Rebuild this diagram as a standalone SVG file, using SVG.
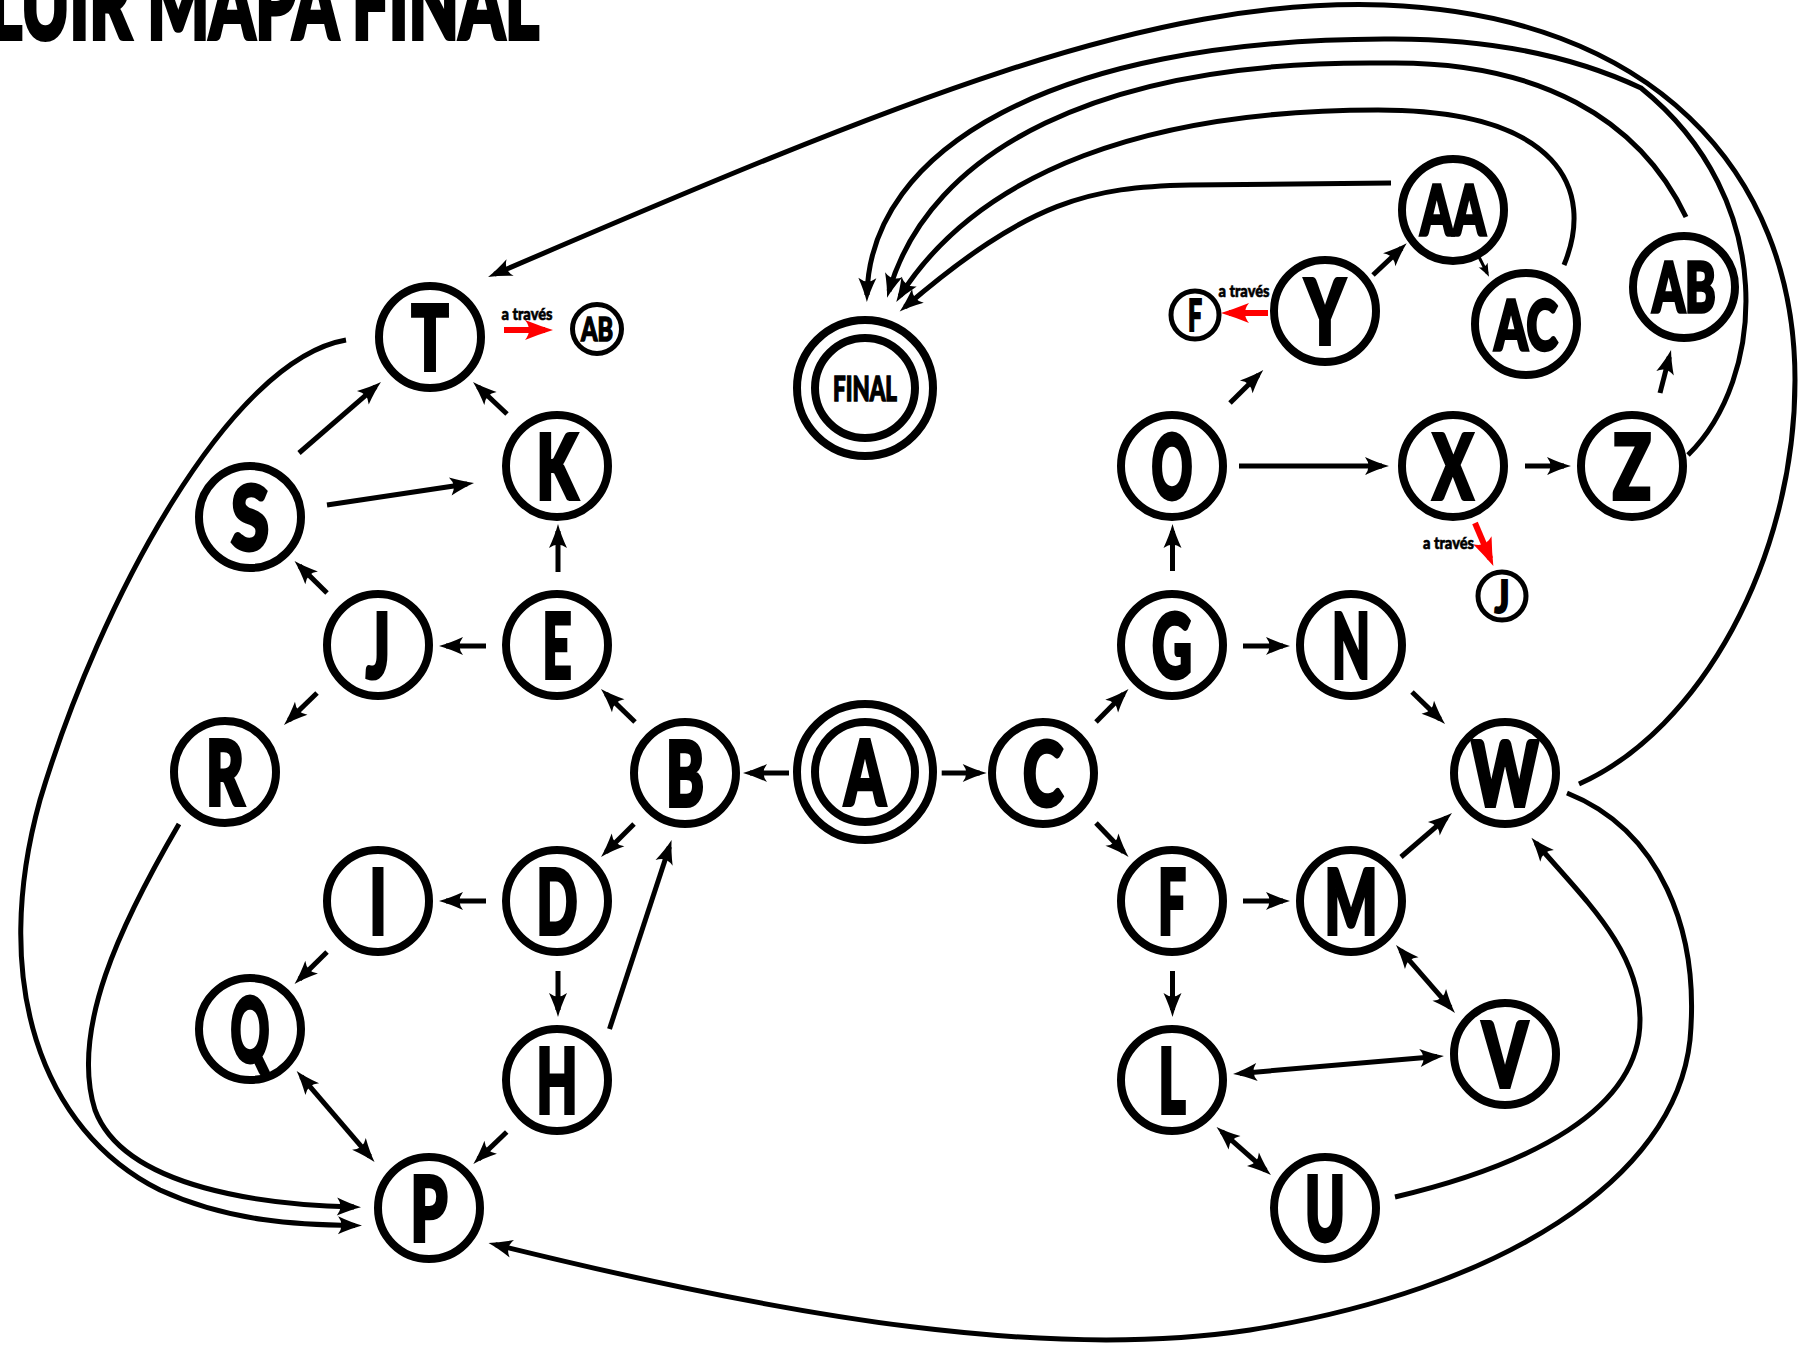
<svg xmlns="http://www.w3.org/2000/svg" width="1807" height="1346" viewBox="0 0 1807 1346">
<style>
.n circle{fill:#fff;stroke:#000;stroke-width:8}
.n circle.s{stroke-width:5}
.l{font-family:"Lato","Liberation Sans",sans-serif;font-weight:900;text-anchor:middle;fill:#000;stroke:#000;stroke-width:4;stroke-linejoin:miter;font-size:90px}
.l2{font-size:68px;stroke-width:3.5}
.e{fill:none;stroke:#000;stroke-width:5;marker-end:url(#ah)}
.d{marker-start:url(#ah)}
.r{fill:none;stroke:#f00;stroke-width:6;marker-end:url(#ahr)}
.t{font-family:"Lato","Liberation Sans",sans-serif;font-weight:900;text-anchor:middle;fill:#000;stroke:#000;stroke-width:0.6;font-size:17px}
</style>
<defs>
<marker id="ah" viewBox="-20 -10 30 20" refX="0" refY="0" markerWidth="30" markerHeight="20" markerUnits="userSpaceOnUse" orient="auto-start-reverse"><path d="M7,0 Q-4,-3 -17,-9 Q-10,0 -17,9 Q-4,3 7,0 Z" fill="#000"/></marker>
<marker id="ahs" viewBox="-12 -6 18 12" refX="0" refY="0" markerWidth="18" markerHeight="12" markerUnits="userSpaceOnUse" orient="auto"><path d="M4,0 Q-2,-2 -9,-5 Q-5,0 -9,5 Q-2,2 4,0 Z" fill="#000"/></marker>
<marker id="ahr" viewBox="-22 -11 32 22" refX="0" refY="0" markerWidth="32" markerHeight="22" markerUnits="userSpaceOnUse" orient="auto"><path d="M8,0 Q-5,-4 -20,-10 Q-12,0 -20,10 Q-5,4 8,0 Z" fill="#f00"/></marker>
</defs>
<rect width="1807" height="1346" fill="#fff"/>
<text x="-12" y="39" font-family="Lato, 'Liberation Sans', sans-serif" font-weight="900" font-size="100" textLength="551" lengthAdjust="spacingAndGlyphs" fill="#000" stroke="#000" stroke-width="4">LUIR MAPA FINAL</text>
<g id="connectors">
<path class="e" d="M299,453 L375.7,386.6"/>
<path class="e" d="M327,505 L467.1,484"/>
<path class="e" d="M507,414 L478.1,386.8"/>
<path class="e" d="M558,572 L558,531"/>
<path class="e" d="M486,646 L446,646"/>
<path class="e" d="M327,593 L299.5,565.9"/>
<path class="e" d="M317,693 L289,720.1"/>
<path class="e" d="M635,722 L606,693.9"/>
<path class="e" d="M634,824 L606,852"/>
<path class="e" d="M486,901 L446,901"/>
<path class="e" d="M327,952 L299.5,979.1"/>
<path class="e d" d="M301.2,1076.3 L370,1156.7"/>
<path class="e" d="M558,971 L558,1010"/>
<path class="e" d="M609.5,1029 L669.4,846.7"/>
<path class="e" d="M506.7,1132 L478.4,1159.1"/>
<path class="e" d="M789,773 L750,773"/>
<path class="e" d="M941.7,773 L979.7,773"/>
<path class="e" d="M1096,722 L1123.6,694"/>
<path class="e" d="M1096,823 L1123.7,851.9"/>
<path class="e" d="M1172.5,571 L1172.5,531"/>
<path class="e" d="M1243,646 L1283,646"/>
<path class="e" d="M1412,692 L1440,719.1"/>
<path class="e" d="M1239,466 L1382,466"/>
<path class="e" d="M1525,466 L1564,466"/>
<path class="e" d="M1230,403 L1258.3,374.9"/>
<path class="e" d="M1373,275 L1401.6,248.1"/>
<path fill="none" stroke="#000" stroke-width="3" marker-end="url(#ahs)" d="M1478,255 L1487.2,273.1"/>
<path class="e" d="M1660,393 L1669.3,356.8"/>
<path class="e" d="M1243,901 L1283,901"/>
<path class="e" d="M1172.5,971 L1172.5,1010"/>
<path class="e" d="M1401,857 L1446.7,817.6"/>
<path class="e d" d="M1400.6,950.3 L1450.4,1007.7"/>
<path class="e d" d="M1240,1073.4 L1437,1056.6"/>
<path class="e d" d="M1221.8,1131.6 L1265.7,1170.4"/>
<path class="r" d="M504,330 L545,330"/>
<path class="r" d="M1268,313 L1229,313"/>
<path class="r" d="M1475,523 L1490.2,558.6"/>
<path class="e" d="M1579,784 C1700,730 1795,560 1795,380 C1795,170 1650,15 1384,5 C1150,-3 900,100 494.5,274.3"/>
<path class="e" d="M1688,455 C1765,380 1780,200 1641,88 C1560,50 1470,38 1384,39 C1050,40 870,150 867,295"/>
<path class="e" d="M1686,217 C1640,120 1540,60 1384,63 C1100,60 930,150 889,291"/>
<path class="e" d="M1564,265 C1595,190 1560,110 1378,110 C1150,110 980,170 900,296"/>
<path class="e" d="M1391,183 L1190,185 C1090,187 1030,200 905,307"/>
<path class="e" d="M346,340 C230,360 100,600 40,800 C-10,980 40,1130 160,1190 C230,1222 300,1225 355,1225.5"/>
<path class="e" d="M179,824 C120,925 70,1030 95,1110 C125,1190 270,1205 354,1207"/>
<path class="e" d="M1567,793 C1660,830 1700,930 1690,1040 C1675,1180 1500,1290 1250,1330 C1050,1360 800,1320 495.3,1244.6"/>
<path class="e" d="M1395,1197 C1530,1165 1640,1110 1640,1020 C1640,950 1585,900 1536,843"/>
</g>
<g id="node-T" class="n"><circle cx="430" cy="337" r="51"/><text class="l" x="430" y="370" textLength="37" lengthAdjust="spacingAndGlyphs">T</text></g>
<g id="node-K" class="n"><circle cx="557" cy="466" r="51"/><text class="l" x="557" y="499" textLength="41" lengthAdjust="spacingAndGlyphs">K</text></g>
<g id="node-S" class="n"><circle cx="250" cy="517" r="51"/><text class="l" x="250" y="550" textLength="38" lengthAdjust="spacingAndGlyphs">S</text></g>
<g id="node-J" class="n"><circle cx="378" cy="645" r="51"/><text class="l" x="378" y="678" textLength="24" lengthAdjust="spacingAndGlyphs">J</text></g>
<g id="node-E" class="n"><circle cx="557" cy="645" r="51"/><text class="l" x="557" y="678" textLength="29" lengthAdjust="spacingAndGlyphs">E</text></g>
<g id="node-R" class="n"><circle cx="225" cy="772" r="51"/><text class="l" x="225" y="805" textLength="38" lengthAdjust="spacingAndGlyphs">R</text></g>
<g id="node-B" class="n"><circle cx="685" cy="773" r="51"/><text class="l" x="685" y="806" textLength="38" lengthAdjust="spacingAndGlyphs">B</text></g>
<g id="node-A" class="n"><circle cx="865" cy="772" r="68"/><circle cx="865" cy="772" r="50"/><text class="l" x="865" y="805" textLength="41" lengthAdjust="spacingAndGlyphs">A</text></g>
<g id="node-C" class="n"><circle cx="1043" cy="773" r="51"/><text class="l" x="1043" y="806" textLength="40" lengthAdjust="spacingAndGlyphs">C</text></g>
<g id="node-I" class="n"><circle cx="378" cy="901" r="51"/><text class="l" x="378" y="934" textLength="17" lengthAdjust="spacingAndGlyphs">I</text></g>
<g id="node-D" class="n"><circle cx="557" cy="901" r="51"/><text class="l" x="557" y="934" textLength="41" lengthAdjust="spacingAndGlyphs">D</text></g>
<g id="node-Q" class="n"><circle cx="250" cy="1029" r="51"/><text class="l" x="250" y="1062" textLength="39" lengthAdjust="spacingAndGlyphs">Q</text></g>
<g id="node-H" class="n"><circle cx="557" cy="1080" r="51"/><text class="l" x="557" y="1113" textLength="41" lengthAdjust="spacingAndGlyphs">H</text></g>
<g id="node-P" class="n"><circle cx="429" cy="1208" r="51"/><text class="l" x="429" y="1241" textLength="37" lengthAdjust="spacingAndGlyphs">P</text></g>
<g id="node-FINAL" class="n"><circle cx="865" cy="388" r="68"/><circle cx="865" cy="388" r="50"/><text class="l" style="font-size:34px;stroke-width:1.5" x="865" y="401" textLength="64" lengthAdjust="spacingAndGlyphs">FINAL</text></g>
<g id="node-O" class="n"><circle cx="1172" cy="466" r="51"/><text class="l" x="1172" y="499" textLength="41" lengthAdjust="spacingAndGlyphs">O</text></g>
<g id="node-G" class="n"><circle cx="1172" cy="645" r="51"/><text class="l" x="1172" y="678" textLength="40" lengthAdjust="spacingAndGlyphs">G</text></g>
<g id="node-N" class="n"><circle cx="1351" cy="645" r="51"/><text class="l" x="1351" y="678" textLength="38" lengthAdjust="spacingAndGlyphs">N</text></g>
<g id="node-W" class="n"><circle cx="1505" cy="773" r="51"/><text class="l" x="1505" y="806" textLength="67" lengthAdjust="spacingAndGlyphs">W</text></g>
<g id="node-F" class="n"><circle cx="1172" cy="901" r="51"/><text class="l" x="1172" y="934" textLength="28" lengthAdjust="spacingAndGlyphs">F</text></g>
<g id="node-M" class="n"><circle cx="1351" cy="901" r="51"/><text class="l" x="1351" y="934" textLength="53" lengthAdjust="spacingAndGlyphs">M</text></g>
<g id="node-L" class="n"><circle cx="1172" cy="1080" r="51"/><text class="l" x="1172" y="1113" textLength="27" lengthAdjust="spacingAndGlyphs">L</text></g>
<g id="node-V" class="n"><circle cx="1505" cy="1054" r="51"/><text class="l" x="1505" y="1087" textLength="45" lengthAdjust="spacingAndGlyphs">V</text></g>
<g id="node-U" class="n"><circle cx="1325" cy="1208" r="51"/><text class="l" x="1325" y="1241" textLength="40" lengthAdjust="spacingAndGlyphs">U</text></g>
<g id="node-X" class="n"><circle cx="1453" cy="466" r="51"/><text class="l" x="1453" y="499" textLength="40" lengthAdjust="spacingAndGlyphs">X</text></g>
<g id="node-Z" class="n"><circle cx="1632" cy="466" r="51"/><text class="l" x="1632" y="499" textLength="38" lengthAdjust="spacingAndGlyphs">Z</text></g>
<g id="node-Y" class="n"><circle cx="1325" cy="311" r="51"/><text class="l" x="1325" y="344" textLength="40" lengthAdjust="spacingAndGlyphs">Y</text></g>
<g id="node-AA" class="n"><circle cx="1453" cy="210" r="51"/><text class="l l2" x="1453" y="235" textLength="65" lengthAdjust="spacingAndGlyphs">AA</text></g>
<g id="node-AC" class="n"><circle cx="1526" cy="324" r="51"/><text class="l l2" x="1526" y="350" textLength="63" lengthAdjust="spacingAndGlyphs">AC</text></g>
<g id="node-AB" class="n"><circle cx="1684" cy="287" r="51"/><text class="l l2" x="1684" y="312" textLength="63" lengthAdjust="spacingAndGlyphs">AB</text></g>
<g id="ref-AB" class="n"><circle class="s" cx="597" cy="329" r="24.5"/><text class="l" style="font-size:32px;stroke-width:1.5" x="597" y="341" textLength="32" lengthAdjust="spacingAndGlyphs">AB</text></g>
<g id="ref-F" class="n"><circle class="s" cx="1195" cy="315" r="24"/><text class="l" style="font-size:44px;stroke-width:2" x="1195" y="331" textLength="14" lengthAdjust="spacingAndGlyphs">F</text></g>
<g id="ref-J" class="n"><circle class="s" cx="1502" cy="596" r="24"/><text class="l" style="font-size:46px;stroke-width:2" x="1502" y="613" textLength="15" lengthAdjust="spacingAndGlyphs">J</text></g>
<g id="labels">
<text class="t" x="527" y="320" textLength="51" lengthAdjust="spacingAndGlyphs">a través</text>
<text class="t" x="1244" y="297" textLength="51" lengthAdjust="spacingAndGlyphs">a través</text>
<text class="t" x="1448.5" y="549" textLength="51" lengthAdjust="spacingAndGlyphs">a través</text>
</g>
</svg>
